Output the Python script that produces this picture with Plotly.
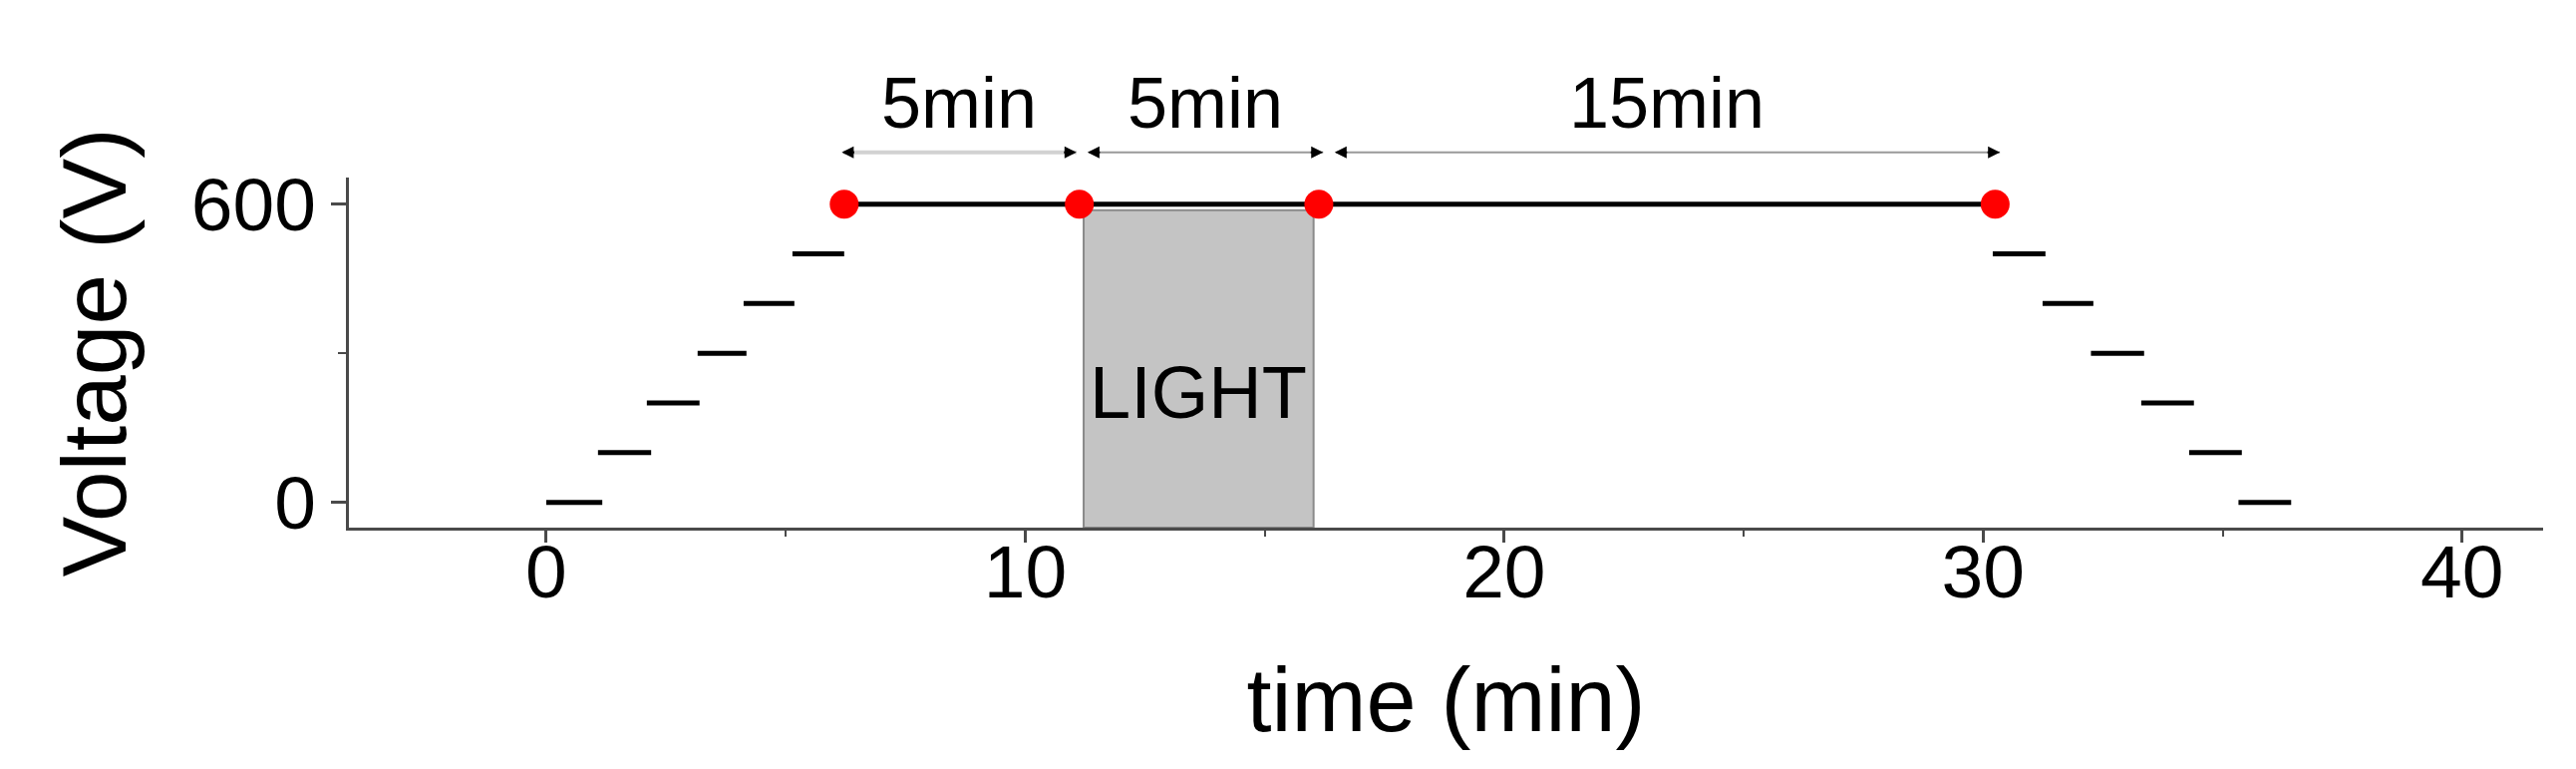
import plotly.graph_objects as go

# ---- data ----
step_up_start = [0.0, 1.08, 2.10, 3.16, 4.12, 5.14]
step_up_end = [1.17, 2.19, 3.20, 4.18, 5.18, 6.22]
step_up_volt = [0, 100, 200, 300, 400, 500]

step_down_start = [30.20, 31.24, 32.25, 33.30, 34.30, 35.33]
step_down_end = [31.30, 32.30, 33.36, 34.40, 35.40, 36.43]
step_down_volt = [500, 400, 300, 200, 100, 0]

hold_time = [6.22, 11.13, 16.13, 30.25]
hold_volt = [600, 600, 600, 600]

light_start = 11.22
light_end = 16.02
light_top = 588
light_label = "LIGHT"

interval_start = [6.17, 11.30, 16.46]
interval_end = [11.07, 16.22, 30.35]
interval_label = ["5min", "5min", "15min"]

x_tickvals = [0, 10, 20, 30, 40]
y_tickvals = [0, 600]
x_range = [-4.12, 41.69]
y_range = [-50.8, 653.6]

FONT = "Liberation Sans, Arial, sans-serif"

fig = go.Figure()

# light box
fig.add_shape(type="rect", xref="x", yref="y",
              x0=light_start, x1=light_end, y0=y_range[0], y1=light_top,
              fillcolor="#c4c4c4", line=dict(color="#8a8a8a", width=2),
              layer="below")

# voltage steps (segments)
sx, sy = [], []
for s, e, v in zip(step_up_start + step_down_start,
                   step_up_end + step_down_end,
                   step_up_volt + step_down_volt):
    sx += [s, e, None]
    sy += [v, v, None]
fig.add_trace(go.Scatter(x=sx, y=sy, mode="lines",
                         line=dict(color="black", width=5),
                         showlegend=False, hoverinfo="skip"))

# hold at 600 V with red markers
fig.add_trace(go.Scatter(x=hold_time, y=hold_volt, mode="lines+markers",
                         line=dict(color="black", width=5),
                         marker=dict(color="#ff0000", size=29),
                         showlegend=False, cliponaxis=False))

fig.add_annotation(x=(light_start + light_end) / 2, y=222, xref="x", yref="y",
                   text=light_label, showarrow=False,
                   font=dict(family=FONT, size=74, color="black"))

# dimension arrows above the plot
arrow_y = 1.072
label_y = 1.095
for i, (t0, t1, lab) in enumerate(zip(interval_start, interval_end, interval_label)):
    shaft_col = "#d2d2d2" if i == 0 else "#9a9a9a"
    shaft_w = 4 if i == 0 else 2
    fig.add_annotation(x=t1, ax=t0, xref="x", axref="x", yref="paper",
                       y=arrow_y, ay=0, ayref="pixel", text="",
                       showarrow=True, arrowhead=0, arrowcolor=shaft_col,
                       arrowwidth=shaft_w)
    fig.add_annotation(x=t1, ax=-14, xref="x", axref="pixel", yref="paper",
                       y=arrow_y, ay=0, ayref="pixel", text="",
                       showarrow=True, arrowhead=2, arrowsize=1.2,
                       arrowcolor="black", arrowwidth=2)
    fig.add_annotation(x=t0, ax=14, xref="x", axref="pixel", yref="paper",
                       y=arrow_y, ay=0, ayref="pixel", text="",
                       showarrow=True, arrowhead=2, arrowsize=1.2,
                       arrowcolor="black", arrowwidth=2)
    fig.add_annotation(x=(t0 + t1) / 2, y=label_y, xref="x", yref="paper",
                       yanchor="bottom", text=lab, showarrow=False,
                       font=dict(family=FONT, size=72, color="black"))

axis_col = "#4a4a4a"
fig.update_xaxes(range=x_range, tickvals=x_tickvals, ticks="outside",
                 ticklen=12, tickwidth=3, tickcolor=axis_col,
                 ticklabelstandoff=-35,
                 showline=True, linecolor=axis_col, linewidth=3,
                 showgrid=False, zeroline=False,
                 minor=dict(dtick=5, tick0=0, ticks="outside", ticklen=6,
                            tickwidth=2, tickcolor=axis_col, showgrid=False),
                 tickfont=dict(family=FONT, size=75, color="black"),
                 title=dict(text="time (min)", standoff=56,
                            font=dict(family=FONT, size=90, color="black")))
fig.update_yaxes(range=y_range, tickvals=y_tickvals, ticks="outside",
                 ticklen=15, tickwidth=3, tickcolor=axis_col,
                 showline=True, linecolor=axis_col, linewidth=3,
                 showgrid=False, zeroline=False,
                 minor=dict(dtick=300, tick0=0, ticks="outside", ticklen=8,
                            tickwidth=2, tickcolor=axis_col, showgrid=False),
                 tickfont=dict(family=FONT, size=75, color="black"),
                 title=dict(text="Voltage (V)", standoff=36,
                            font=dict(family=FONT, size=91, color="black")))

fig.update_layout(width=2584, height=771,
                  margin=dict(l=342, r=41, t=170, b=250, autoexpand=False),
                  plot_bgcolor="white", paper_bgcolor="white",
                  showlegend=False)

fig.write_html("out.html")
